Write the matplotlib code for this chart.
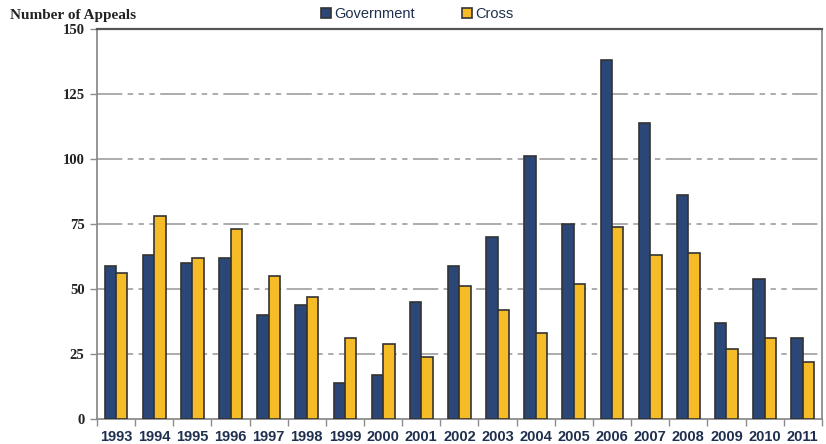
import numpy as np
import matplotlib
matplotlib.use("Agg")
import matplotlib.pyplot as plt
from matplotlib.ticker import FixedLocator, NullFormatter

# Appeals per year
years = ["1993", "1994", "1995", "1996", "1997", "1998", "1999", "2000", "2001", "2002",
         "2003", "2004", "2005", "2006", "2007", "2008", "2009", "2010", "2011"]
government = [59, 63, 60, 62, 40, 44, 14, 17, 45, 59, 70, 101, 75, 138, 114, 86, 37, 54, 31]
cross = [56, 78, 62, 73, 55, 47, 31, 29, 24, 51, 42, 33, 52, 74, 63, 64, 27, 31, 22]
y_ticks = [0, 25, 50, 75, 100, 125, 150]

navy = "#2a4778"
gold = "#f5bc28"
edge = "#333333"
grey = "#8c8c8c"

fig = plt.figure(figsize=(8.26, 4.44), dpi=100)
ax = fig.add_axes([0.1174, 0.0563, 0.8776, 0.8784])

x = np.arange(len(years))
w = 0.3
ax.bar(x - w / 2, government, width=w, color=navy, edgecolor=edge, linewidth=1.2,
       label="Government", zorder=3)
ax.bar(x + w / 2, cross, width=w, color=gold, edgecolor=edge, linewidth=1.2,
       label="Cross", zorder=3)

ax.set_xlim(-0.5, len(years) - 0.5)
ax.set_ylim(0, 150)

# dashed grid (long dash, three short dashes)
for v in y_ticks[1:-1]:
    ax.axhline(v, color="#a6a6a6", linewidth=1.3, zorder=1,
               dashes=(14, 3, 3, 3, 3, 3, 3, 3))

# y axis
ax.set_yticks(y_ticks)
ax.set_yticklabels([str(v) for v in y_ticks], fontfamily="Liberation Serif",
                   fontweight="bold", fontsize=10.5, color="#222222")
ax.tick_params(axis="y", direction="out", length=5, width=1, color=grey, pad=4)

# x axis: ticks at group boundaries, labels at centers
ax.xaxis.set_major_locator(FixedLocator(x))
ax.set_xticklabels(years, fontfamily="Liberation Sans", fontweight="bold",
                   fontsize=10.5, color="#1f2f4f")
ax.tick_params(axis="x", which="major", length=0, pad=8)
ax.xaxis.set_minor_locator(FixedLocator(np.arange(-0.5, len(years), 1.0)))
ax.xaxis.set_minor_formatter(NullFormatter())
ax.tick_params(axis="x", which="minor", direction="out", length=5, width=1, color=grey)

for side in ["left", "bottom", "right"]:
    ax.spines[side].set_color(grey)
    ax.spines[side].set_linewidth(1.3)
ax.spines["top"].set_color("#555555")
ax.spines["top"].set_linewidth(1.6)

fig.text(0.012, 0.966, "Number of Appeals", fontfamily="Liberation Serif",
         fontweight="bold", fontsize=11, color="#222222", va="center", ha="left")

leg = fig.legend(loc="center", bbox_to_anchor=(0.505, 0.968), ncol=2, frameon=False,
                 prop={"family": "Liberation Sans", "size": 10.5},
                 handlelength=0.7, handleheight=0.7, handletextpad=0.2,
                 columnspacing=3.2)
for t in leg.get_texts():
    t.set_color("#1f2f4f")

fig.savefig("out.png", dpi=100)
